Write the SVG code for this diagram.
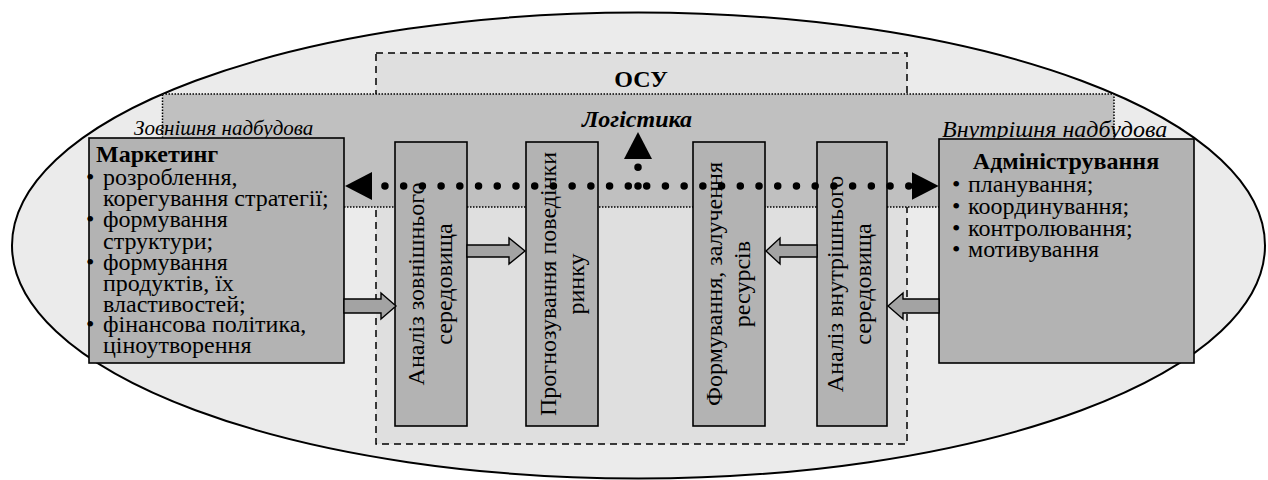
<svg xmlns="http://www.w3.org/2000/svg" width="1268" height="480" viewBox="0 0 1268 480" font-family="'Liberation Serif', 'DejaVu Serif', serif">
<style>
text{font-family:'Liberation Serif','DejaVu Serif',serif;fill:#000}
.t{font-size:24px}
.b{font-size:24px;font-weight:bold}
.i{font-style:italic}
.box{fill:#b3b3b3;stroke:#000;stroke-width:1.6}
.blk{fill:#a3a3a3;stroke:#000;stroke-width:1.4;stroke-linejoin:miter}
.dots{fill:none;stroke:#000;stroke-width:7.5;stroke-linecap:round;stroke-dasharray:0 18.72}
</style>
<defs>
<marker id="tri" viewBox="0 -14 27 28" refX="0" refY="0" markerWidth="27" markerHeight="28" markerUnits="userSpaceOnUse" orient="auto">
<path d="M0,-14 L27,0 L0,14 Z" fill="#000"/>
</marker>
</defs>
<g id="background">
<ellipse cx="638.5" cy="245.5" rx="626.5" ry="233" fill="#ebebeb" stroke="#000" stroke-width="2"/>
</g>
<g id="osu">
<rect x="376" y="53" width="531" height="391" fill="#dfdfdf" stroke="#000" stroke-width="1.5" stroke-dasharray="7,5"/>
<text class="b" x="641" y="87" text-anchor="middle">ОСУ</text>
</g>
<g id="logistics">
<rect x="162.5" y="94" width="951.5" height="113" fill="#c0c0c0" stroke="#000" stroke-width="1.5" stroke-dasharray="1.5,1.5"/>
<text class="b i" x="637" y="127" text-anchor="middle">Логістика</text>
</g>
<g id="outer-label">
<text class="i" x="134" y="135" font-size="21">Зовнішня надбудова</text>
</g>
<g id="inner-label">
<text class="i" x="942" y="137" font-size="24">Внутрішня надбудова</text>
</g>
<g id="marketing">
<rect class="box" x="89" y="138" width="255" height="225"/>
<text class="b" x="96" y="162">Маркетинг</text>
<text class="t">
<tspan x="86" y="185">•</tspan><tspan x="103" y="185">розроблення,</tspan>
<tspan x="103" y="206">корегування стратегії;</tspan>
<tspan x="86" y="227">•</tspan><tspan x="103" y="227">формування</tspan>
<tspan x="103" y="249">структури;</tspan>
<tspan x="86" y="270">•</tspan><tspan x="103" y="270">формування</tspan>
<tspan x="103" y="291">продуктів, їх</tspan>
<tspan x="103" y="312">властивостей;</tspan>
<tspan x="86" y="332">•</tspan><tspan x="103" y="332">фінансова політика,</tspan>
<tspan x="103" y="353">ціноутворення</tspan>
</text>
</g>
<g id="admin">
<rect class="box" x="939" y="139" width="255" height="224"/>
<text class="b" x="1066" y="169" text-anchor="middle">Адміністрування</text>
<text class="t">
<tspan x="952" y="192">•</tspan><tspan x="968" y="192">планування;</tspan>
<tspan x="952" y="214">•</tspan><tspan x="968" y="214">координування;</tspan>
<tspan x="952" y="236">•</tspan><tspan x="968" y="236">контролювання;</tspan>
<tspan x="952" y="257">•</tspan><tspan x="968" y="257">мотивування</tspan>
</text>
</g>
<g id="ext-analysis">
<rect class="box" x="395" y="142" width="72" height="284"/>
<text class="t" transform="translate(424,284) rotate(-90)" text-anchor="middle"><tspan x="0" y="0">Аналіз зовнішнього</tspan><tspan x="0" y="28">середовища</tspan></text>
</g>
<g id="forecast">
<rect class="box" x="526" y="142" width="72" height="284"/>
<text class="t" transform="translate(556,284) rotate(-90)" text-anchor="middle"><tspan x="0" y="0">Прогнозування поведінки</tspan><tspan x="0" y="28">ринку</tspan></text>
</g>
<g id="resources">
<rect class="box" x="693" y="142" width="72" height="284"/>
<text class="t" transform="translate(722,284) rotate(-90)" text-anchor="middle"><tspan x="0" y="0">Формування, залучення</tspan><tspan x="0" y="28">ресурсів</tspan></text>
</g>
<g id="int-analysis">
<rect class="box" x="817" y="142" width="70" height="284"/>
<text class="t" transform="translate(843,284) rotate(-90)" text-anchor="middle"><tspan x="0" y="0">Аналіз внутрішнього</tspan><tspan x="0" y="28">середовища</tspan></text>
</g>
<g id="connectors">
<polygon class="blk" points="344,299 381,299 381,293 396,306 381,319 381,313 344,313"/>
<polygon class="blk" points="467,245 509,245 509,238 525,251 509,264 509,257 467,257"/>
<polygon class="blk" points="817,245 780,245 780,238 766,251 780,264 780,257 817,257"/>
<polygon class="blk" points="939,299 903,299 903,293 888,306 903,319 903,313 939,313"/>
<line class="dots" x1="628.3" y1="186" x2="372" y2="186" marker-end="url(#tri)"/>
<line class="dots" x1="646.7" y1="186" x2="911.7" y2="186" marker-end="url(#tri)"/>
<line class="dots" x1="638" y1="186" x2="638" y2="159" marker-end="url(#tri)"/>
</g>
</svg>
